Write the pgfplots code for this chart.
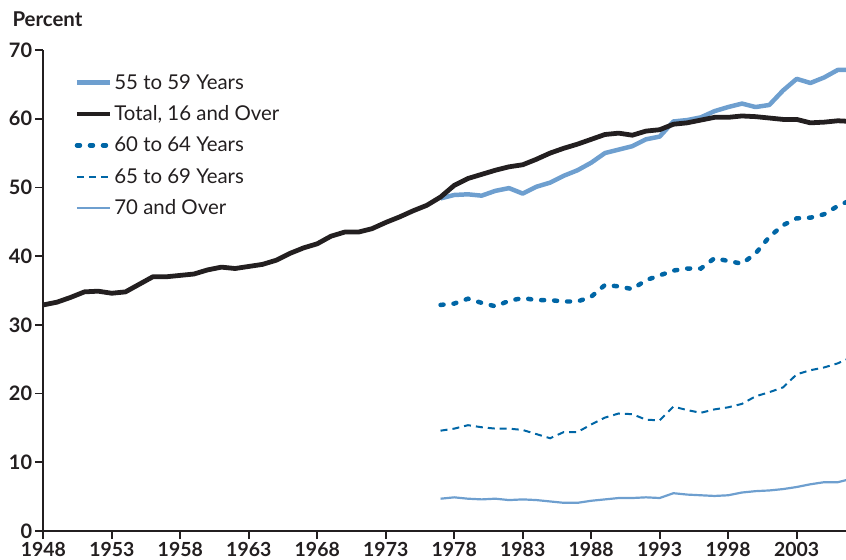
\documentclass[border=0pt]{standalone}
\usepackage{pgfplots}
\pgfplotsset{compat=1.18}
\usepackage{pgfplotstable}
\usepackage{fontspec}
\setmainfont{Lato}
\definecolor{lblue}{HTML}{6E9FCF}
\definecolor{dblue}{HTML}{0066A6}
\definecolor{blk}{HTML}{231F20}
\pgfplotstableread{
year total
1948 32.9
1949 33.3
1950 34.0
1951 34.8
1952 34.9
1953 34.6
1954 34.8
1955 35.9
1956 37.0
1957 37.0
1958 37.2
1959 37.4
1960 38.0
1961 38.4
1962 38.2
1963 38.5
1964 38.8
1965 39.4
1966 40.4
1967 41.2
1968 41.8
1969 42.9
1970 43.5
1971 43.5
1972 44.0
1973 44.9
1974 45.7
1975 46.6
1976 47.4
1977 48.6
1978 50.3
1979 51.3
1980 51.9
1981 52.5
1982 53.0
1983 53.3
1984 54.1
1985 55.0
1986 55.7
1987 56.3
1988 57.0
1989 57.7
1990 57.9
1991 57.6
1992 58.2
1993 58.4
1994 59.2
1995 59.4
1996 59.8
1997 60.2
1998 60.2
1999 60.4
2000 60.3
2001 60.1
2002 59.9
2003 59.9
2004 59.4
2005 59.5
2006 59.7
2007 59.6
}\tot
\pgfplotstableread{
year a b c d
1977 48.4 32.9 14.6 4.7
1978 48.9 33.1 14.9 4.9
1979 49.0 33.8 15.4 4.7
1980 48.8 33.2 15.1 4.6
1981 49.5 32.7 14.9 4.7
1982 49.9 33.5 14.9 4.5
1983 49.1 33.9 14.7 4.6
1984 50.1 33.6 14.1 4.5
1985 50.7 33.6 13.5 4.3
1986 51.7 33.4 14.4 4.1
1987 52.5 33.4 14.4 4.1
1988 53.6 34.1 15.5 4.4
1989 55.0 35.8 16.5 4.6
1990 55.5 35.6 17.1 4.8
1991 56.0 35.2 17.0 4.8
1992 57.0 36.5 16.2 4.9
1993 57.4 37.2 16.1 4.8
1994 59.6 37.9 18.1 5.5
1995 59.8 38.2 17.6 5.3
1996 60.2 38.2 17.2 5.2
1997 61.1 39.7 17.7 5.1
1998 61.7 39.3 18.0 5.2
1999 62.2 38.9 18.5 5.6
2000 61.7 40.4 19.6 5.8
2001 62.0 42.8 20.2 5.9
2002 64.1 44.5 20.9 6.1
2003 65.8 45.5 22.8 6.4
2004 65.2 45.6 23.4 6.8
2005 66.0 46.1 23.8 7.1
2006 67.1 47.3 24.4 7.1
2007 67.1 48.2 25.3 7.6
}\grp
\begin{document}
\begin{tikzpicture}
\begin{axis}[
  at={(43.3bp,29bp)}, anchor=south west,
  scale only axis, width=802.7bp, height=481bp,
  xmin=1948, xmax=2006.6, ymin=0, ymax=70,
  axis x line*=bottom, axis y line*=left,
  axis line style={line width=2.2pt, draw=blk, -},
  xtick={1948,1953,...,2003}, ytick={0,10,...,70},
  tick style={line width=1.8pt, draw=blk},
  tick align=outside, major tick length=8bp,
  ticklabel style={font=\fontsize{20}{22}\selectfont\bfseries, text=blk},
  x tick label style={/pgf/number format/1000 sep={}, inner sep=0pt, yshift=-3bp, font=\fontsize{19.5}{21}\selectfont\bfseries},
  y tick label style={inner sep=0pt, xshift=-3bp},
  /pgf/number format/assume math mode=true,
  clip=true,
  legend style={at={(rel axis cs:0.035,0.958)}, anchor=north west, draw=none, fill=none,
    font=\fontsize{20.5}{24}\selectfont, text=blk, row sep=11bp,
    /tikz/every even column/.append style={column sep=12bp}},
  legend cell align=left,
  legend image code/.code={\draw[#1] (0bp,0bp) -- (33bp,0bp);},
]
\addplot[lblue, line width=4.5pt, line join=round] table[x=year,y=a]{\grp};
\addlegendentry{55 to 59 Years}
\addplot[blk, line width=4.8pt, line join=round] table[x=year,y=total]{\tot};
\addlegendentry{Total, 16 and Over}
\addplot[dblue, line width=4.5pt, line cap=round, dash pattern=on 3bp off 10bp] table[x=year,y=b]{\grp};
\addlegendentry{60 to 64 Years}
\addplot[dblue, line width=2pt, dash pattern=on 7bp off 5bp] table[x=year,y=c]{\grp};
\addlegendentry{65 to 69 Years}
\addplot[lblue, line width=2.2pt, line join=round] table[x=year,y=d]{\grp};
\addlegendentry{70 and Over}
\end{axis}
\node[anchor=base west, font=\fontsize{20.5}{22}\selectfont\bfseries, text=blk] at (9bp,533bp) {Percent};
\pgfresetboundingbox
\path (0,0) rectangle (846bp,560bp);
\end{tikzpicture}
\end{document}
